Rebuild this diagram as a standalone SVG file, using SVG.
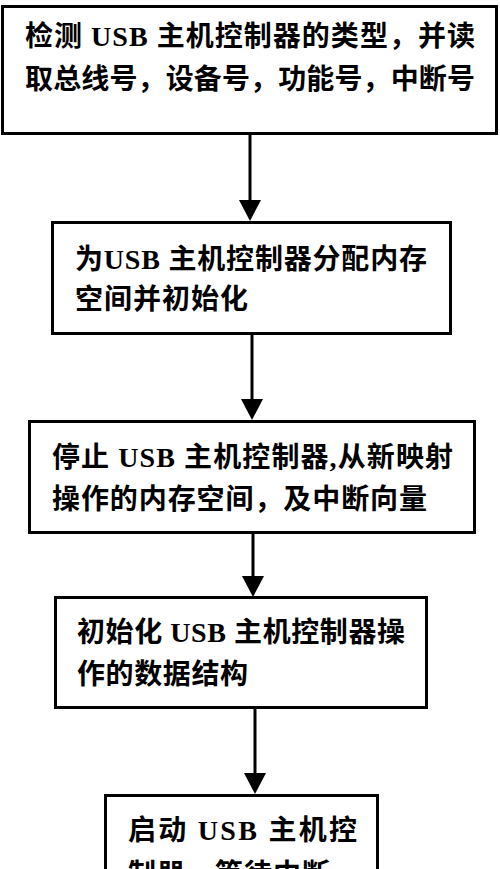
<svg xmlns="http://www.w3.org/2000/svg" width="500" height="869" viewBox="0 0 500 869">
<style>
.box{fill:#fff;stroke:#000;stroke-width:3}
.t{font-family:"Liberation Serif","Noto Sans CJK SC",serif;font-weight:bold;font-size:28px;fill:#000}
.c{stroke:#000;stroke-width:3;fill:none}
</style>
<defs>
<marker id="ah" markerUnits="userSpaceOnUse" viewBox="0 0 21 22" refX="13" refY="11" markerWidth="21" markerHeight="22" orient="auto">
<path d="M0,0 L21,11 L0,22 Z" fill="#000"/>
</marker>
</defs>
<rect width="500" height="869" fill="#fff"/>
<g id="connectors">
<line class="c" x1="250" y1="134" x2="250" y2="213" marker-end="url(#ah)"/>
<line class="c" x1="252" y1="334" x2="252" y2="412" marker-end="url(#ah)"/>
<line class="c" x1="253" y1="533" x2="253" y2="589" marker-end="url(#ah)"/>
<line class="c" x1="255" y1="708" x2="255" y2="786" marker-end="url(#ah)"/>
</g>
<g id="node1">
<rect class="box" x="2.5" y="6.5" width="494" height="127"/>
<text class="t" x="25" y="46" textLength="450" lengthAdjust="spacing">检测 USB 主机控制器的类型，并读</text>
<text class="t" x="25" y="89" textLength="450" lengthAdjust="spacing">取总线号，设备号，功能号，中断号</text>
</g>
<g id="node2">
<rect class="box" x="52.5" y="222.5" width="398" height="111"/>
<text class="t" x="75" y="269" textLength="352" lengthAdjust="spacing">为USB 主机控制器分配内存</text>
<text class="t" x="75" y="309" textLength="173" lengthAdjust="spacing">空间并初始化</text>
</g>
<g id="node3">
<rect class="box" x="29.5" y="421.5" width="445" height="111"/>
<text class="t" x="52" y="467" textLength="401" lengthAdjust="spacing">停止 USB 主机控制器,从新映射</text>
<text class="t" x="52" y="509" textLength="375" lengthAdjust="spacing">操作的内存空间，及中断向量</text>
</g>
<g id="node4">
<rect class="box" x="55.5" y="597.5" width="371" height="110"/>
<text class="t" x="77" y="642" textLength="328" lengthAdjust="spacing">初始化 USB 主机控制器操</text>
<text class="t" x="77" y="684" textLength="171" lengthAdjust="spacing">作的数据结构</text>
</g>
<g id="node5">
<rect class="box" x="105.5" y="795.5" width="272" height="110"/>
<text class="t" x="128" y="840" textLength="229" lengthAdjust="spacing">启动 USB 主机控</text>
<text class="t" x="128" y="884" textLength="202" lengthAdjust="spacing">制器，等待中断</text>
</g>
</svg>
